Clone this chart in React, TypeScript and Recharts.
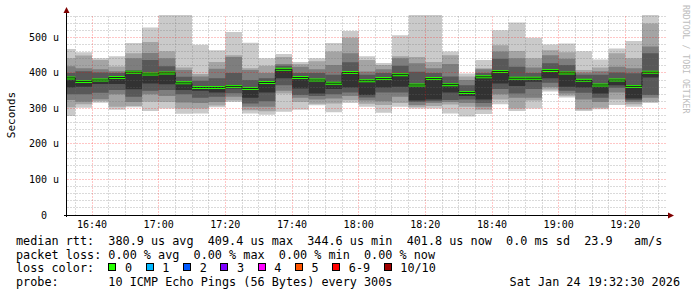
import React from 'react'
import { ComposedChart, Area, Line, XAxis, YAxis, ReferenceLine } from 'recharts'

// 5 minute slots (start of each step)
const slots = [
  '16:30', '16:35', '16:40', '16:45', '16:50', '16:55',
  '17:00', '17:05', '17:10', '17:15', '17:20', '17:25', '17:30', '17:35', '17:40', '17:45', '17:50', '17:55',
  '18:00', '18:05', '18:10', '18:15', '18:20', '18:25', '18:30', '18:35', '18:40', '18:45', '18:50', '18:55',
  '19:00', '19:05', '19:10', '19:15', '19:20', '19:25',
]

// sorted ping rtts per slot, microseconds (rtt1 = fastest, rtt10 = slowest)
const rtt1 = [279, 302, 316, 296, 303, 293, 300, 285, 286, 303, 318, 286, 282, 291, 296, 309, 289, 315, 305, 288, 305, 300, 300, 286, 277, 284, 312, 293, 300, 348, 331, 293, 298, 310, 305, 315]
const rtt2 = [303, 312, 320, 305, 307, 319, 318, 300, 300, 308, 322, 295, 292, 342, 318, 313, 314, 323, 313, 310, 315, 305, 307, 311, 305, 296, 325, 300, 322, 353, 336, 297, 302, 325, 312, 319]
const rtt3 = [324, 319, 326, 340, 318, 340, 335, 317, 315, 318, 333, 305, 305, 350, 330, 325, 328, 335, 322, 320, 333, 310, 315, 318, 315, 305, 340, 330, 330, 360, 342, 325, 318, 345, 318, 330]
const rtt4 = [340, 340, 344, 352, 333, 350, 352, 340, 330, 333, 343, 314, 320, 365, 338, 335, 340, 345, 331, 345, 345, 318, 320, 324, 325, 315, 355, 342, 355, 372, 350, 344, 330, 358, 323, 338]
const rtt5 = [359, 361, 369, 369, 354, 370, 368, 352, 350, 345, 356, 330, 345, 385, 356, 342, 355, 359, 338, 359, 361, 322, 325, 345, 335, 325, 370, 363, 375, 385, 361, 359, 342, 365, 328, 387]
const rtt6 = [389, 379, 383, 390, 405, 400, 403, 375, 362, 362, 365, 359, 376, 413, 390, 383, 374, 404, 381, 387, 398, 369, 387, 370, 348, 392, 407, 388, 388, 410, 403, 382, 369, 383, 365, 405]
const rtt7 = [400, 405, 401, 400, 408, 436, 419, 389, 378, 385, 400, 380, 385, 420, 400, 400, 395, 430, 395, 400, 420, 403, 400, 390, 365, 400, 440, 417, 400, 427, 422, 395, 395, 401, 399, 455]
const rtt8 = [419, 413, 410, 405, 441, 456, 441, 408, 390, 412, 445, 408, 400, 425, 417, 410, 422, 455, 404, 410, 441, 427, 413, 425, 380, 410, 460, 441, 415, 450, 440, 401, 405, 417, 413, 474]
const rtt9 = [441, 449, 436, 418, 455, 487, 461, 415, 397, 431, 450, 413, 420, 445, 425, 433, 460, 499, 436, 422, 447, 445, 431, 450, 390, 413, 478, 462, 441, 464, 458, 408, 415, 455, 441, 539]
const rtt10 = [467, 458, 441, 447, 484, 528, 600, 600, 479, 464, 515, 485, 441, 453, 431, 441, 484, 518, 447, 428, 506, 600, 600, 460, 398, 436, 520, 542, 499, 480, 483, 461, 438, 469, 490, 565]
const medianRtt = [386, 376, 380, 387, 402, 397, 400, 372, 359, 359, 362, 356, 373, 410, 387, 380, 371, 401, 378, 384, 395, 366, 384, 367, 345, 389, 404, 385, 385, 407, 400, 379, 366, 380, 362, 402]

const xTicks = ['16:40', '17:00', '17:20', '17:40', '18:00', '18:20', '18:40', '19:00', '19:20']
const yTicks = [0, 100, 200, 300, 400, 500]
const windowStart = '16:32:30'
const windowEnd = '19:32:30'
const stepMin = 5
const yMax = 563

const lossColors = [
  ['0', '#26ff00'], ['1', '#00b8ff'], ['2', '#0059ff'], ['3', '#7e00ff'],
  ['4', '#ff00ff'], ['5', '#ff5500'], ['6-9', '#ff0000'], ['10/10', '#a00000'],
]

// smokeping greys, outer pair -> inner pair
const smokeGreys = ['#cacaca', '#a4a4a4', '#7e7e7e', '#585858', '#323232']

const W = 697
const PLOT_L = 67
const PLOT_R = 667
const PLOT_T = 15
const PLOT_B = 215
const MONO = '"DejaVu Sans Mono", monospace'
const MINOR = 'rgba(110,110,110,0.5)'
const MAJOR = 'rgba(255,0,0,0.45)'

const toMin = (s: string) => {
  const [h, m, sec = '0'] = s.split(':')
  return Number(h) * 60 + Number(m) + Number(sec) / 60
}
const pad = (n: number) => String(n).padStart(2, '0')
const fmtTime = (v: number) => `${pad(Math.floor(v / 60))}:${pad(Math.round(v % 60))}`

const pings = [rtt1, rtt2, rtt3, rtt4, rtt5, rtt6, rtt7, rtt8, rtt9, rtt10]
const rows = slots.map((s, i) => ({ t: toMin(s), p: pings.map((a) => a[i]), m: medianRtt[i] }))
// close the last step
rows.push({ ...rows[rows.length - 1], t: rows[rows.length - 1].t + stepMin })

const x0 = toMin(windowStart)
const x1 = toMin(windowEnd)
const majorX = xTicks.map(toMin)
const minorX: number[] = []
for (let t = toMin(slots[1]); t < x1; t += stepMin) if (!majorX.includes(t)) minorX.push(t)
const minorY: number[] = []
for (let v = 20; v < yMax; v += 20) if (v % 100 !== 0) minorY.push(v)

// half thickness of the median band (1.5px) in value units
const band = (1.5 * yMax) / (PLOT_B - PLOT_T)

const snap = (p: number) => Math.floor(p) + 0.5

const YTick = (props: any) => {
  const { x, y, payload } = props
  const label = payload.value === 0 ? '0  ' : `${payload.value} u`
  return (
    <text x={x} y={y} dy="0.35em" textAnchor="end" xmlSpace="preserve" fontFamily={MONO} fontSize={10} fill="#000">
      {label}
    </text>
  )
}

// dotted grid line, snapped to the pixel grid
const dotted = (color: string) => (p: any) => (
  <line
    x1={snap(p.x1)}
    y1={snap(p.y1)}
    x2={snap(p.x2)}
    y2={snap(p.y2)}
    stroke={color}
    strokeWidth={1}
    strokeDasharray="1 2"
  />
)

const gridLine = (kind: 'x' | 'y', v: number, color: string) =>
  kind === 'x' ? (
    <ReferenceLine key={`x${v}`} x={v} stroke={color} shape={dotted(color)} />
  ) : (
    <ReferenceLine key={`y${v}`} y={v} stroke={color} shape={dotted(color)} />
  )

export default function App() {
  return (
    <div style={{ position: 'absolute', left: 0, top: 0, width: W, height: 297, background: '#fff' }}>
      <ComposedChart
        width={W}
        height={230}
        data={rows}
        margin={{ top: PLOT_T, right: W - PLOT_R, bottom: 0, left: 0 }}
      >
        <XAxis
          type="number"
          dataKey="t"
          domain={[x0, x1]}
          allowDataOverflow
          ticks={majorX}
          interval={0}
          tickFormatter={fmtTime}
          axisLine={false}
          tickLine={false}
          tickSize={3}
          tickMargin={3}
          height={15}
          tick={{ fontFamily: MONO, fontSize: 10, fill: '#000' }}
        />
        <YAxis
          type="number"
          domain={[0, yMax]}
          allowDataOverflow
          ticks={yTicks}
          interval={0}
          width={PLOT_L}
          axisLine={false}
          tickLine={false}
          tickSize={3}
          tickMargin={5}
          tick={(p: any) => <YTick {...p} />}
        />
        {smokeGreys.map((c, k) => (
          <Area
            key={c}
            type="stepAfter"
            dataKey={(r: any) => [r.p[k], r.p[9 - k]]}
            fill={c}
            fillOpacity={1}
            stroke="none"
            dot={false}
            activeDot={false}
            isAnimationActive={false}
          />
        ))}
        <Line
          type="stepAfter"
          dataKey="m"
          stroke="#202020"
          strokeWidth={1}
          dot={false}
          activeDot={false}
          isAnimationActive={false}
        />
        <Area
          type="stepAfter"
          dataKey={(r: any) => [r.m - band, r.m + band]}
          fill={lossColors[0][1]}
          fillOpacity={1}
          stroke="none"
          dot={false}
          activeDot={false}
          isAnimationActive={false}
        />
        {minorY.map((v) => gridLine('y', v, MINOR))}
        {minorX.map((v) => gridLine('x', v, MINOR))}
        {yTicks.filter((v) => v > 0).map((v) => gridLine('y', v, MAJOR))}
        {majorX.map((v) => gridLine('x', v, MAJOR))}
      </ComposedChart>

      <svg width={W} height={297} style={{ position: 'absolute', left: 0, top: 0, pointerEvents: 'none' }}>
        <line x1={PLOT_L - 0.5} y1={PLOT_B + 2} x2={PLOT_L - 0.5} y2={PLOT_T - 4} stroke="#000" />
        <line x1={PLOT_L - 3} y1={PLOT_B + 0.5} x2={PLOT_R + 3} y2={PLOT_B + 0.5} stroke="#000" />
        <polygon points={`${PLOT_L - 3.5},${PLOT_T - 2} ${PLOT_L + 2.5},${PLOT_T - 2} ${PLOT_L - 0.5},${PLOT_T - 8}`} fill="#7f0000" />
        <polygon points={`${PLOT_R + 1},${PLOT_B - 2.5} ${PLOT_R + 1},${PLOT_B + 3.5} ${PLOT_R + 7},${PLOT_B + 0.5}`} fill="#7f0000" />
        <text
          transform={`translate(11, ${(PLOT_T + PLOT_B) / 2}) rotate(-90)`}
          textAnchor="middle"
          dominantBaseline="central"
          fontFamily={MONO}
          fontSize={11}
          fill="#000"
        >
          Seconds
        </text>
        <text
          transform="translate(683, 5) rotate(90)"
          textAnchor="start"
          fontFamily={MONO}
          fontSize={8.2}
          fill="#bdbdbd"
        >
          RRDTOOL / TOBI OETIKER
        </text>
      </svg>

      <div
        style={{
          position: 'absolute',
          left: 16,
          top: 234.8,
          width: 664,
          fontFamily: MONO,
          fontSize: 11.8,
          lineHeight: '13.7px',
          whiteSpace: 'pre',
          color: '#000',
        }}
      >
        <div>median rtt:  380.9 us avg  409.4 us max  344.6 us min  401.8 us now  0.0 ms sd  23.9   am/s</div>
        <div>packet loss: 0.00 % avg  0.00 % max  0.00 % min  0.00 % now</div>
        <div>
          {'loss color:  '}
          {lossColors.map(([label, color]) => (
            <span key={label}>
              <span
                style={{
                  display: 'inline-block',
                  width: 6,
                  height: 6,
                  border: '1px solid #000',
                  background: color,
                  verticalAlign: 1,
                  marginRight: 8.7,
                }}
              />
              <span style={{ marginRight: 13.5 }}>{label}</span>
            </span>
          ))}
        </div>
        <div style={{ display: 'flex', justifyContent: 'space-between' }}>
          <span>probe:       10 ICMP Echo Pings (56 Bytes) every 300s</span>
          <span>Sat Jan 24 19:32:30 2026</span>
        </div>
      </div>
    </div>
  )
}
